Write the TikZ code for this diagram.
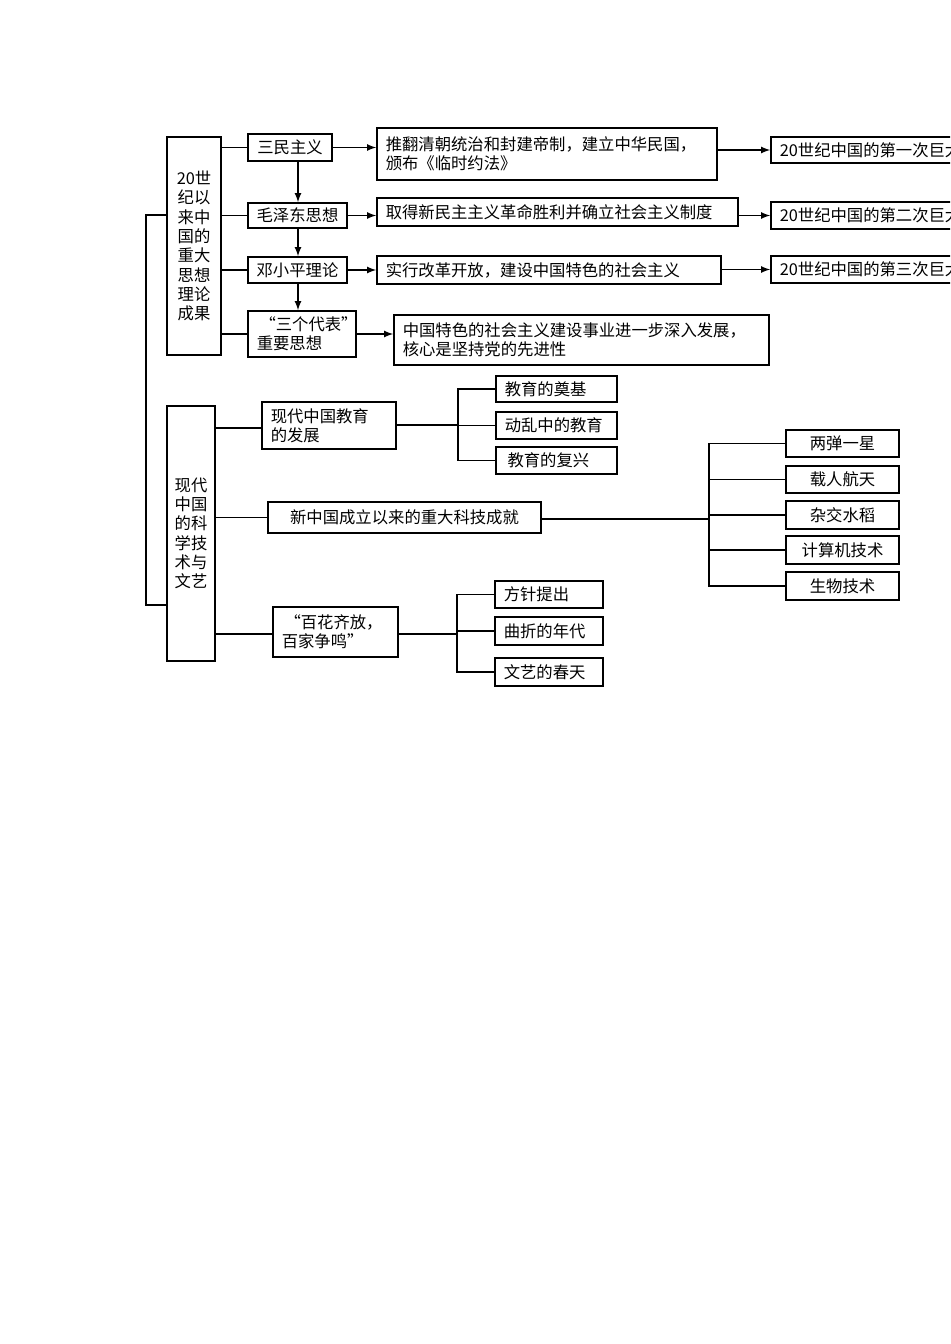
\documentclass[tikz,border=0pt]{standalone}
\usepackage{fontspec}
\setmainfont{Noto Sans CJK SC}
\usetikzlibrary{positioning}
\tikzset{
  bx/.style={draw, line width=0.9pt, inner sep=0pt, font=\fontsize{9.3}{11}\selectfont},
  arr/.style={-latex, line width=0.8pt},
  ln/.style={line width=0.8pt}
}
\newcommand{\boxat}[7][align=center]{% [options] name, x1, y1, x2, y2, text
  \node[bx, minimum width={(#5-#3)*0.02cm}, minimum height={(#6-#4)*0.02cm}, #1] (#2) at ({(#3+#5)/2},{(#4+#6)/2}) {#7};}
\newcommand{\lboxat}[6]{% left aligned text
  \boxat[align=left, text width={(#4-#2)*0.02cm-10pt}]{#1}{#2}{#3}{#4}{#5}{#6}}
\begin{document}
\begin{tikzpicture}[x=0.02cm,y=-0.02cm]
  \useasboundingbox (0,0) rectangle (950,1344);
  \clip (0,0) rectangle (950,1344);
  % first part
  \boxat{ach}{167}{137}{221}{355}{20世\\纪以\\来中\\国的\\重大\\思想\\理论\\成果}
  \boxat{smzy}{248}{134}{332}{161}{三民主义}
  \boxat{mzd}{248}{203}{347}{228}{毛泽东思想}
  \boxat{dxp}{248}{257}{347}{283}{邓小平理论}
  \lboxat{sgdb}{248}{311}{356}{357}{\,“三个代表”\\重要思想}
  \lboxat{ta}{377}{128}{717}{180}{推翻清朝统治和封建帝制，建立中华民国，\\颁布《临时约法》}
  \lboxat{tb}{377}{198}{738}{226}{取得新民主主义革命胜利并确立社会主义制度}
  \lboxat{tc}{377}{256}{721}{284}{实行改革开放，建设中国特色的社会主义}
  \lboxat{td}{394}{315}{769}{365}{中国特色的社会主义建设事业进一步深入发展，\\核心是坚持党的先进性}
  \lboxat{ra}{771}{137}{990}{163}{20世纪中国的第一次巨大飞跃}
  \lboxat{rb}{771}{202}{990}{229}{20世纪中国的第二次巨大飞跃}
  \lboxat{rc}{771}{256}{990}{283}{20世纪中国的第三次巨大飞跃}
  \foreach \n in {smzy,mzd,dxp,sgdb}
    \draw[ln] (ach.east |- \n) -- (\n.west);
  \coordinate (dn) at (298,0);
  \draw[arr] (dn |- smzy.south) -- (dn |- mzd.north);
  \draw[arr] (dn |- mzd.south) -- (dn |- dxp.north);
  \draw[arr] (dn |- dxp.south) -- (dn |- sgdb.north);
  \draw[arr] (smzy) -- (ta.west |- smzy);
  \draw[arr] (mzd) -- (tb.west |- mzd);
  \draw[arr] (dxp) -- (tc.west |- dxp);
  \draw[arr] (sgdb) -- (td.west |- sgdb);
  \draw[arr] (ta.east |- ra) -- (ra.west);
  \draw[arr] (tb.east |- rb) -- (rb.west);
  \draw[arr] (tc.east |- rc) -- (rc.west);
  % second part
  \boxat{bch}{167}{406}{215}{661}{现代\\中国\\的科\\学技\\术与\\文艺}
  \draw[ln] (ach.west |- 0,215) -- (146,215) -- (146,605) -- (bch.west |- 0,605);
  \lboxat{jy}{262}{402}{396}{449}{现代中国教育\\的发展}
  \lboxat{jya}{496}{376}{617}{402}{教育的奠基}
  \lboxat{jyb}{496}{412}{617}{439}{动乱中的教育}
  \lboxat{jyc}{496}{447}{617}{474}{\,教育的复兴}
  \boxat{kj}{268}{502}{541}{533}{新中国成立以来的重大科技成就}
  \boxat{kja}{786}{430}{899}{457}{两弹一星}
  \boxat{kjb}{786}{466}{899}{493}{载人航天}
  \boxat{kjc}{786}{501}{899}{529}{杂交水稻}
  \boxat{kjd}{786}{536}{899}{564}{计算机技术}
  \boxat{kje}{786}{572}{899}{600}{生物技术}
  \lboxat{bh}{273}{607}{398}{657}{\,“百花齐放，\\百家争鸣”}
  \lboxat{bha}{495}{581}{603}{608}{方针提出}
  \lboxat{bhb}{495}{617}{603}{645}{曲折的年代}
  \lboxat{bhc}{495}{658}{603}{686}{文艺的春天}
  \draw[ln] (bch.east |- 0,428) -- (jy.west |- 0,428);
  \draw[ln] (bch.east |- kj) -- (kj.west);
  \draw[ln] (bch.east |- 0,634) -- (bh.west |- 0,634);
  \coordinate (jyx) at (458,425);
  \coordinate (kjx) at (709,519);
  \coordinate (bhx) at (457,634);
  \draw[ln] (jy.east |- jyx) -- (jyx);
  \draw[ln] (kj.east |- kjx) -- (kjx);
  \draw[ln] (bh.east |- bhx) -- (bhx);
  \draw[ln] (jya.west) -- (jyx |- jya) -- (jyx |- jyc) -- (jyc.west);
  \draw[ln] (jyx |- jyb) -- (jyb.west);
  \draw[ln] (kja.west) -- (kjx |- kja) -- (kjx |- kje) -- (kje.west);
  \foreach \n in {kjb,kjc,kjd} \draw[ln] (kjx |- \n) -- (\n.west);
  \draw[ln] (bha.west) -- (bhx |- bha) -- (bhx |- bhc) -- (bhc.west);
  \draw[ln] (bhx |- bhb) -- (bhb.west);
\end{tikzpicture}
\end{document}
